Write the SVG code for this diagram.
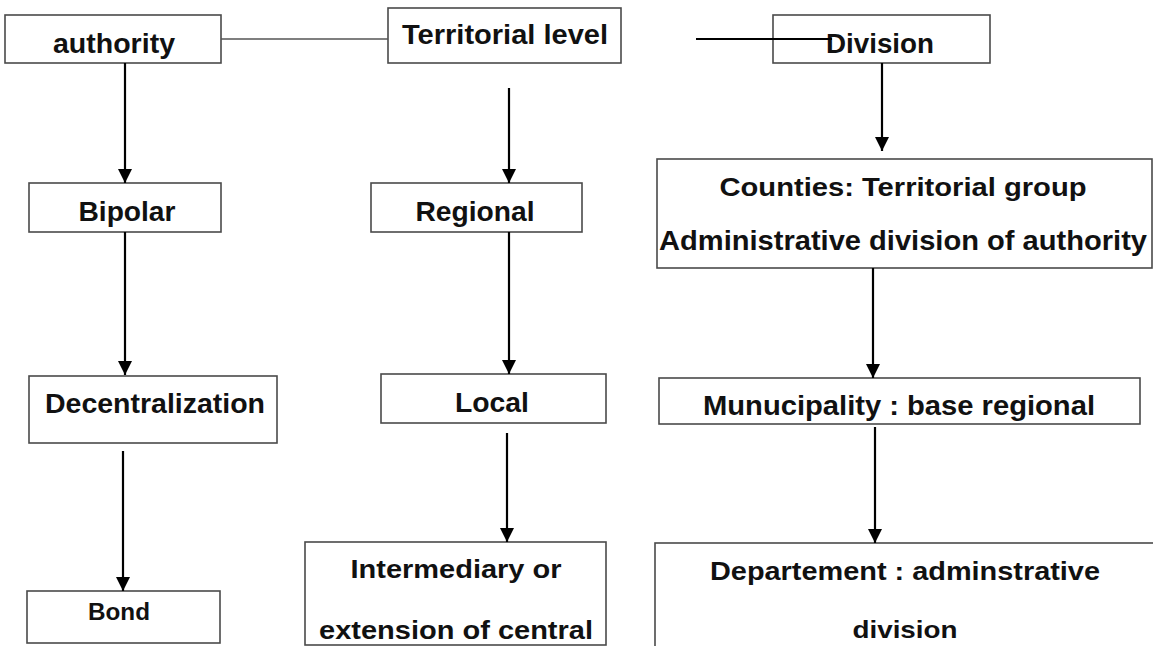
<svg xmlns="http://www.w3.org/2000/svg" width="1153" height="646" viewBox="0 0 1153 646">
  <style>
    .box { fill: #ffffff; stroke: #4a4a4a; stroke-width: 1.6; }
    .lbl { font-family: "Liberation Sans", Arial, sans-serif; font-weight: bold; fill: #111111; text-anchor: middle; }
    .arrow { stroke: #000000; stroke-width: 2.2; fill: none; marker-end: url(#head); }
    .plain { stroke: #555555; stroke-width: 1.6; fill: none; }
    .dark { stroke: #000000; stroke-width: 2; fill: none; }
  </style>
  <defs>
    <marker id="head" markerUnits="userSpaceOnUse" markerWidth="14" markerHeight="14" refX="14" refY="7" orient="auto">
      <path d="M0,0 L14,7 L0,14 Z" fill="#000000"/>
    </marker>
  </defs>
  <rect x="0" y="0" width="1153" height="646" fill="#ffffff"/>

  <g id="node-authority">
    <rect class="box" x="5" y="15" width="216" height="48"/>
    <text class="lbl" x="114" y="53" font-size="28" textLength="122" lengthAdjust="spacingAndGlyphs">authority</text>
  </g>
  <g id="node-territorial">
    <rect class="box" x="388" y="8" width="233" height="55"/>
    <text class="lbl" x="505" y="44" font-size="27" textLength="206" lengthAdjust="spacingAndGlyphs">Territorial level</text>
  </g>
  <g id="node-division">
    <rect class="box" x="773" y="15" width="217" height="48"/>
    <text class="lbl" x="880" y="53" font-size="28" textLength="108" lengthAdjust="spacingAndGlyphs">Division</text>
  </g>

  <g id="node-bipolar">
    <rect class="box" x="29" y="183" width="192" height="49"/>
    <text class="lbl" x="127" y="221" font-size="28" textLength="97" lengthAdjust="spacingAndGlyphs">Bipolar</text>
  </g>
  <g id="node-decentralization">
    <rect class="box" x="29" y="376" width="248" height="67"/>
    <text class="lbl" x="155" y="413" font-size="28" textLength="220" lengthAdjust="spacingAndGlyphs">Decentralization</text>
  </g>
  <g id="node-bond">
    <rect class="box" x="27" y="591" width="193" height="52"/>
    <text class="lbl" x="119" y="620" font-size="24" textLength="62" lengthAdjust="spacingAndGlyphs">Bond</text>
  </g>

  <g id="node-regional">
    <rect class="box" x="371" y="183" width="211" height="49"/>
    <text class="lbl" x="475" y="221" font-size="28" textLength="119" lengthAdjust="spacingAndGlyphs">Regional</text>
  </g>
  <g id="node-local">
    <rect class="box" x="381" y="374" width="225" height="49"/>
    <text class="lbl" x="492" y="412" font-size="28" textLength="74" lengthAdjust="spacingAndGlyphs">Local</text>
  </g>
  <g id="node-intermediary">
    <rect class="box" x="305" y="542" width="301" height="103"/>
    <text class="lbl" x="456" y="578" font-size="25" textLength="211" lengthAdjust="spacingAndGlyphs">Intermediary or</text>
    <text class="lbl" x="456" y="639" font-size="25" textLength="274" lengthAdjust="spacingAndGlyphs">extension of central</text>
  </g>

  <g id="node-counties">
    <rect class="box" x="657" y="159" width="495" height="109"/>
    <text class="lbl" x="903" y="196" font-size="26" textLength="367" lengthAdjust="spacingAndGlyphs">Counties: Territorial group</text>
    <text class="lbl" x="903" y="250" font-size="27" textLength="488" lengthAdjust="spacingAndGlyphs">Administrative division of authority</text>
  </g>
  <g id="node-municipality">
    <rect class="box" x="659" y="378" width="481" height="46"/>
    <text class="lbl" x="899" y="415" font-size="27" textLength="392" lengthAdjust="spacingAndGlyphs">Munucipality : base regional</text>
  </g>
  <g id="node-departement">
    <rect class="box" x="655" y="543" width="520" height="120"/>
    <text class="lbl" x="905" y="580" font-size="25" textLength="390" lengthAdjust="spacingAndGlyphs">Departement : adminstrative</text>
    <text class="lbl" x="905" y="638" font-size="24" textLength="105" lengthAdjust="spacingAndGlyphs">division</text>
  </g>

  <g id="connectors">
    <line class="plain" x1="221" y1="39" x2="388" y2="39"/>
    <line class="dark" x1="696" y1="39" x2="832" y2="39"/>
    <line class="arrow" x1="125" y1="63" x2="125" y2="183"/>
    <line class="arrow" x1="125" y1="232" x2="125" y2="375"/>
    <line class="arrow" x1="123" y1="451" x2="123" y2="591"/>
    <line class="arrow" x1="509" y1="88" x2="509" y2="183"/>
    <line class="arrow" x1="509" y1="232" x2="509" y2="374"/>
    <line class="arrow" x1="507" y1="433" x2="507" y2="542"/>
    <line class="arrow" x1="882" y1="63" x2="882" y2="151"/>
    <line class="arrow" x1="873" y1="268" x2="873" y2="378"/>
    <line class="arrow" x1="875" y1="427" x2="875" y2="543"/>
  </g>
</svg>
